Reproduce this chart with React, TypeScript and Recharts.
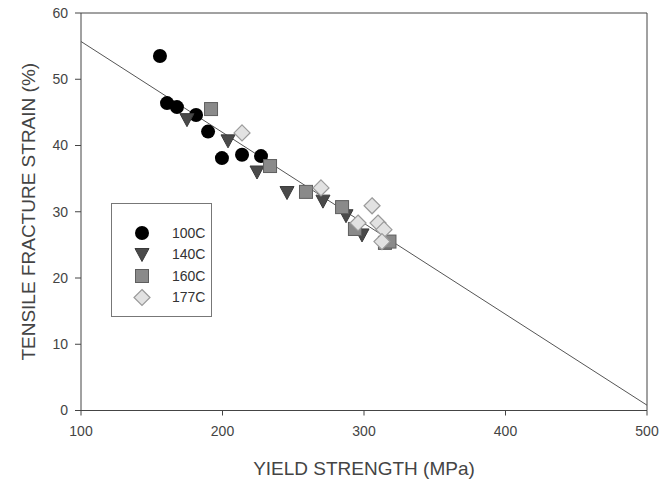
import React from "react";
import { ScatterChart, Scatter, XAxis, YAxis, ReferenceLine } from "recharts";

const series100C = [
  { x: 155.8, y: 53.5 },
  { x: 160.8, y: 46.4 },
  { x: 167.8, y: 45.8 },
  { x: 181.3, y: 44.6 },
  { x: 189.8, y: 42.1 },
  { x: 199.6, y: 38.1 },
  { x: 213.8, y: 38.6 },
  { x: 227.2, y: 38.4 },
];

const series140C = [
  { x: 174.9, y: 43.9 },
  { x: 203.9, y: 40.7 },
  { x: 224.4, y: 36.0 },
  { x: 245.6, y: 32.9 },
  { x: 271.0, y: 31.6 },
  { x: 287.3, y: 29.4 },
  { x: 298.6, y: 26.5 },
];

const series160C = [
  { x: 191.9, y: 45.5 },
  { x: 233.6, y: 36.9 },
  { x: 259.0, y: 33.0 },
  { x: 284.5, y: 30.7 },
  { x: 293.6, y: 27.4 },
  { x: 314.8, y: 25.3 },
  { x: 318.0, y: 25.5 },
];

const series177C = [
  { x: 213.8, y: 41.9 },
  { x: 269.6, y: 33.6 },
  { x: 305.7, y: 30.9 },
  { x: 309.9, y: 28.3 },
  { x: 295.8, y: 28.3 },
  { x: 314.1, y: 27.3 },
  { x: 312.7, y: 25.5 },
];

const fitLine = [
  { x: 100, y: 55.7 },
  { x: 500, y: 0.8 },
];

const xTicks = [100, 200, 300, 400, 500];
const yTicks = [0, 10, 20, 30, 40, 50, 60];
const legendLabels = ["100C", "140C", "160C", "177C"];

const FONT = "'Liberation Sans', Arial, sans-serif";

const Circle = (p: any) => <circle cx={p.cx} cy={p.cy} r={7} fill="#000" />;
const Tri = (p: any) => (
  <polygon
    points={`${p.cx - 7},${p.cy - 6} ${p.cx + 7},${p.cy - 6} ${p.cx},${p.cy + 7}`}
    fill="#4a4a4a"
    stroke="#3a3a3a"
    strokeWidth={1}
  />
);
const Sq = (p: any) => (
  <rect x={p.cx - 6.5} y={p.cy - 6.5} width={13} height={13} fill="#8a8a8a" stroke="#5e5e5e" strokeWidth={1} />
);
const Dia = (p: any) => (
  <polygon
    points={`${p.cx},${p.cy - 8} ${p.cx + 8},${p.cy} ${p.cx},${p.cy + 8} ${p.cx - 8},${p.cy}`}
    fill="#e2e2e2"
    stroke="#9a9a9a"
    strokeWidth={1.2}
  />
);
const NoShape = () => <g />;

const shapes = [Circle, Tri, Sq, Dia];

const LegendBox = () => (
  <div
    style={{
      position: "absolute",
      left: 111,
      top: 203,
      width: 101,
      height: 114,
      border: "1px solid #777",
      background: "#fff",
      boxSizing: "border-box",
      fontFamily: FONT,
    }}
  >
    <svg width={100} height={113} style={{ position: "absolute", left: 0, top: 0 }}>
      {legendLabels.map((lab, i) => {
        const S = shapes[i];
        const cy = 29 + i * 21.5;
        return (
          <g key={lab}>
            <S cx={30} cy={cy} />
            <text x={60} y={cy} dy="0.35em" fontSize={14} fill="#333" fontFamily={FONT}>
              {lab}
            </text>
          </g>
        );
      })}
    </svg>
  </div>
);

export default function App() {
  return (
    <div style={{ position: "absolute", left: 0, top: 0, width: 662, height: 479, background: "#fff" }}>
      <ScatterChart width={662} height={479} margin={{ top: 13, right: 15, bottom: 20.5, left: 0 }}>
        <XAxis
          type="number"
          dataKey="x"
          domain={[100, 500]}
          ticks={xTicks}
          allowDataOverflow
          height={48}
          stroke="#444"
          tickSize={5}
          tickMargin={11}
          tick={{ fontSize: 14, fill: "#444", fontFamily: FONT }}
          label={{
            value: "YIELD STRENGTH (MPa)",
            position: "insideBottom",
            offset: 0,
            dy: 16,
            style: { fontSize: 19, fill: "#444", fontFamily: FONT },
          }}
        />
        <YAxis
          type="number"
          dataKey="y"
          domain={[0, 60]}
          ticks={yTicks}
          allowDataOverflow
          width={81}
          stroke="#444"
          tickSize={6}
          tickMargin={7}
          tick={{ fontSize: 14, fill: "#444", fontFamily: FONT }}
          label={{
            value: "TENSILE FRACTURE STRAIN (%)",
            angle: -90,
            position: "insideLeft",
            offset: 28,
            style: { fontSize: 19, fill: "#444", fontFamily: FONT, textAnchor: "middle" },
          }}
        />
        <ReferenceLine y={60} stroke="#444" ifOverflow="visible" />
        <ReferenceLine x={500} stroke="#444" ifOverflow="visible" />
        <Scatter
          data={fitLine}
          line={{ stroke: "#555", strokeWidth: 1 }}
          shape={NoShape}
          legendType="none"
          isAnimationActive={false}
        />
        <Scatter name="100C" data={series100C} shape={Circle} isAnimationActive={false} />
        <Scatter name="140C" data={series140C} shape={Tri} isAnimationActive={false} />
        <Scatter name="160C" data={series160C} shape={Sq} isAnimationActive={false} />
        <Scatter name="177C" data={series177C} shape={Dia} isAnimationActive={false} />
      </ScatterChart>
      <LegendBox />
    </div>
  );
}
